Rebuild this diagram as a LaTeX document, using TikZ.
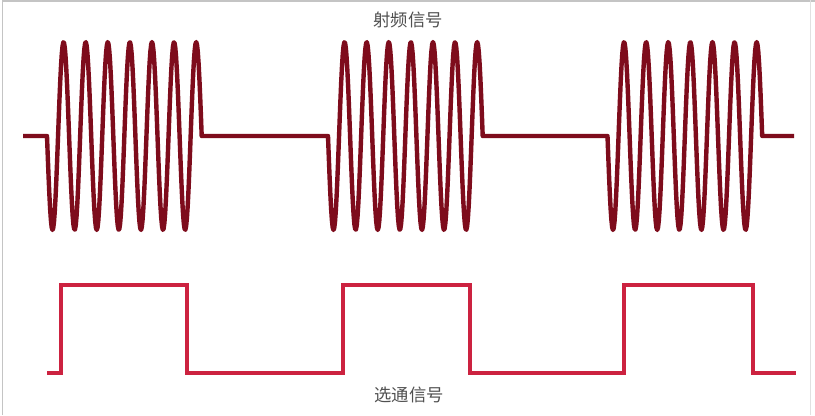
\documentclass[tikz,border=0pt]{standalone}
\usepackage{fontspec}
\newfontfamily\cjk{Noto Sans CJK SC}
\definecolor{rf}{HTML}{7E0C1C}
\definecolor{gate}{HTML}{CC2240}
\definecolor{lbl}{HTML}{505050}
\definecolor{framecol}{HTML}{C4C4C4}
\begin{document}
\begin{tikzpicture}[x=0.75pt,y=-0.75pt,
  rfline/.style={rf, line width=3.3pt, line join=round},
  gateline/.style={gate, line width=3pt, line join=miter},
  framel/.style={framecol, line width=0.9pt},
  lab/.style={text=lbl, font=\cjk\fontsize{13}{15}\selectfont, inner sep=0pt}]
\useasboundingbox (0,0) rectangle (815,415);
\fill[white] (0,0) rectangle (815,415);
\draw[framel] (2.5,415) -- (2.5,1) -- (815,1);
\draw[framecol!50, line width=0.6pt] (810,0) -- (810,415);
% RF signal
\draw[rfline] (23,136) -- (47,136)
  -- plot[domain=0:2520, samples=200] ({47+\x/360*22.1},{136+94*sin(\x)})
  -- (328,136)
  -- plot[domain=0:2520, samples=200] ({328+\x/360*22.1},{136+94*sin(\x)})
  -- (607.5,136)
  -- plot[domain=0:2520, samples=200] ({607.5+\x/360*22.1},{136+94*sin(\x)})
  -- (794,136);
% gate signal
\draw[gateline] (47,373) -- (61,373) -- (61,285) -- (187,285) -- (187,373)
  -- (343,373) -- (343,285) -- (470,285) -- (470,373) -- (624,373)
  -- (624,285) -- (753,285) -- (753,373) -- (796,373);
\node[lab] (rftitle) at (408,20) {射频信号};
\node[lab] (gatetitle) at (409,395) {选通信号};
\end{tikzpicture}
\end{document}
